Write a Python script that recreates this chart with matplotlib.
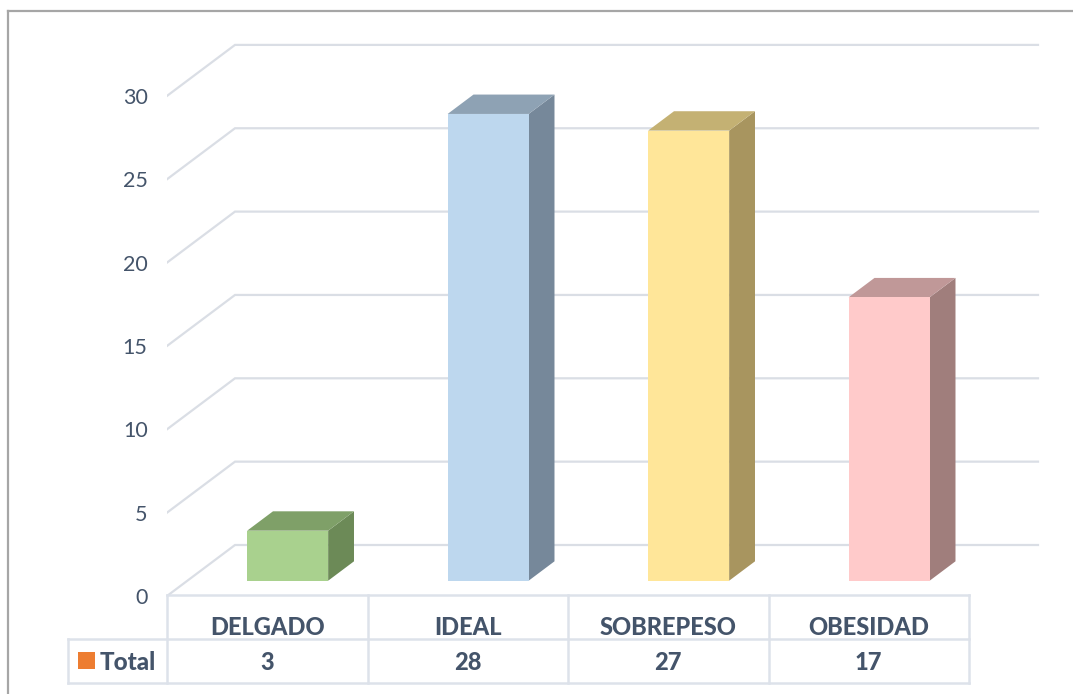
import matplotlib
matplotlib.use("Agg")
import matplotlib.pyplot as plt
from matplotlib.patches import Polygon, Rectangle
from matplotlib.lines import Line2D

plt.rcParams['font.family'] = ['Lato', 'DejaVu Sans']

categories = ["DELGADO", "IDEAL", "SOBREPESO", "OBESIDAD"]
values = [3, 28, 27, 17]
series_name = "Total"
yticks = [0, 5, 10, 15, 20, 25, 30]

front_colors = ["#A9D18E", "#BDD7EE", "#FFE699", "#FFCACA"]
top_colors = ["#7FA068", "#8EA2B4", "#C4B173", "#C09898"]
side_colors = ["#6C8A57", "#76889A", "#A8955F", "#A07E7C"]

TEXT = "#44546A"
GRID = "#DADEE5"

W, H = 1073, 694
fig = plt.figure(figsize=(W / 100, H / 100), dpi=100)

x0_px, x1_px = 167, 1040
y0_px, y1_px = 596, 40
cat_px = 200.5
val_px = 16.67

ax = fig.add_axes([x0_px / W, 1 - y0_px / H, (x1_px - x0_px) / W, (y0_px - y1_px) / H])
ax.set_xlim(-0.5, -0.5 + (x1_px - x0_px) / cat_px)
ax.set_ylim(0, (y0_px - y1_px) / val_px)
for s in ax.spines.values():
    s.set_visible(False)
ax.set_xticks([])
ax.set_yticks(yticks)
ax.set_yticklabels([str(t) for t in yticks], color=TEXT, fontsize=15.5)
ax.tick_params(axis='y', length=0, pad=14)
ax.patch.set_alpha(0)

dxd = 68 / cat_px
dyd = 51 / val_px
xright = -0.5 + (1038 - x0_px) / cat_px

for t in yticks:
    ax.add_line(Line2D([-0.5, -0.5 + dxd, xright], [t, t + dyd, t + dyd],
                       color=GRID, lw=1.6, solid_joinstyle='miter', zorder=1))

bw = 0.404
d0, d1 = 0.30, 0.68
for i, (v, fc, tc, sc) in enumerate(zip(values, front_colors, top_colors, side_colors)):
    xl = i - bw / 2 + d0 * dxd
    xr = i + bw / 2 + d0 * dxd
    yb = d0 * dyd
    yt = v + d0 * dyd
    ddx = (d1 - d0) * dxd
    ddy = (d1 - d0) * dyd
    ax.add_patch(Polygon([[xr, yb], [xr + ddx, yb + ddy], [xr + ddx, yt + ddy], [xr, yt]],
                         closed=True, facecolor=sc, edgecolor='none', zorder=3))
    ax.add_patch(Polygon([[xl, yt], [xr, yt], [xr + ddx, yt + ddy], [xl + ddx, yt + ddy]],
                         closed=True, facecolor=tc, edgecolor='none', zorder=3))
    ax.add_patch(Rectangle((xl, yb), xr - xl, yt - yb, facecolor=fc, edgecolor='none', zorder=4))

tb_top, tb_bot = 595, 683
axt = fig.add_axes([x0_px / W, 1 - tb_bot / H, (x1_px - x0_px) / W, (tb_bot - tb_top) / H])
axt.set_xlim(ax.get_xlim())
axt.set_ylim(0, 2)
axt.axis('off')
n = len(categories)
lc = "#DDE2EA"
lw = 1.8
key_left = -0.5 - (167 - 68) / cat_px
axt.add_line(Line2D([-0.5, n - 0.5], [2, 2], color=lc, lw=lw, clip_on=False))
axt.add_line(Line2D([key_left, n - 0.5], [1, 1], color=lc, lw=lw, clip_on=False))
axt.add_line(Line2D([key_left, n - 0.5], [0, 0], color=lc, lw=lw, clip_on=False))
for k in range(n + 1):
    axt.add_line(Line2D([k - 0.5, k - 0.5], [0, 2], color=lc, lw=lw, clip_on=False))
axt.add_line(Line2D([key_left, key_left], [0, 1], color=lc, lw=lw, clip_on=False))

FS = 17
for i, (c, v) in enumerate(zip(categories, values)):
    axt.text(i, 1.27, c, ha='center', va='center', fontsize=FS, fontweight='black', color=TEXT)
    axt.text(i, 0.47, str(v), ha='center', va='center', fontsize=FS, fontweight='black', color=TEXT)

sq_l = -0.5 + (78 - 167) / cat_px
sq_w = 17 / cat_px
axt.add_patch(Rectangle((sq_l, 0.318), sq_w, 0.387, facecolor="#ED7D31", edgecolor='none', clip_on=False))
axt.text(-0.5 + (100 - 167) / cat_px, 0.47, series_name, ha='left', va='center',
         fontsize=FS + 0.5, fontweight='black', color=TEXT)

fig.add_artist(Line2D([8 / W, 1], [1 - 11 / H, 1 - 11 / H], color="#A6A6A6", lw=1.6, transform=fig.transFigure))
fig.add_artist(Line2D([8 / W, 8 / W], [0, 1 - 11 / H], color="#A6A6A6", lw=1.6, transform=fig.transFigure))

fig.savefig("out.png", dpi=100)
